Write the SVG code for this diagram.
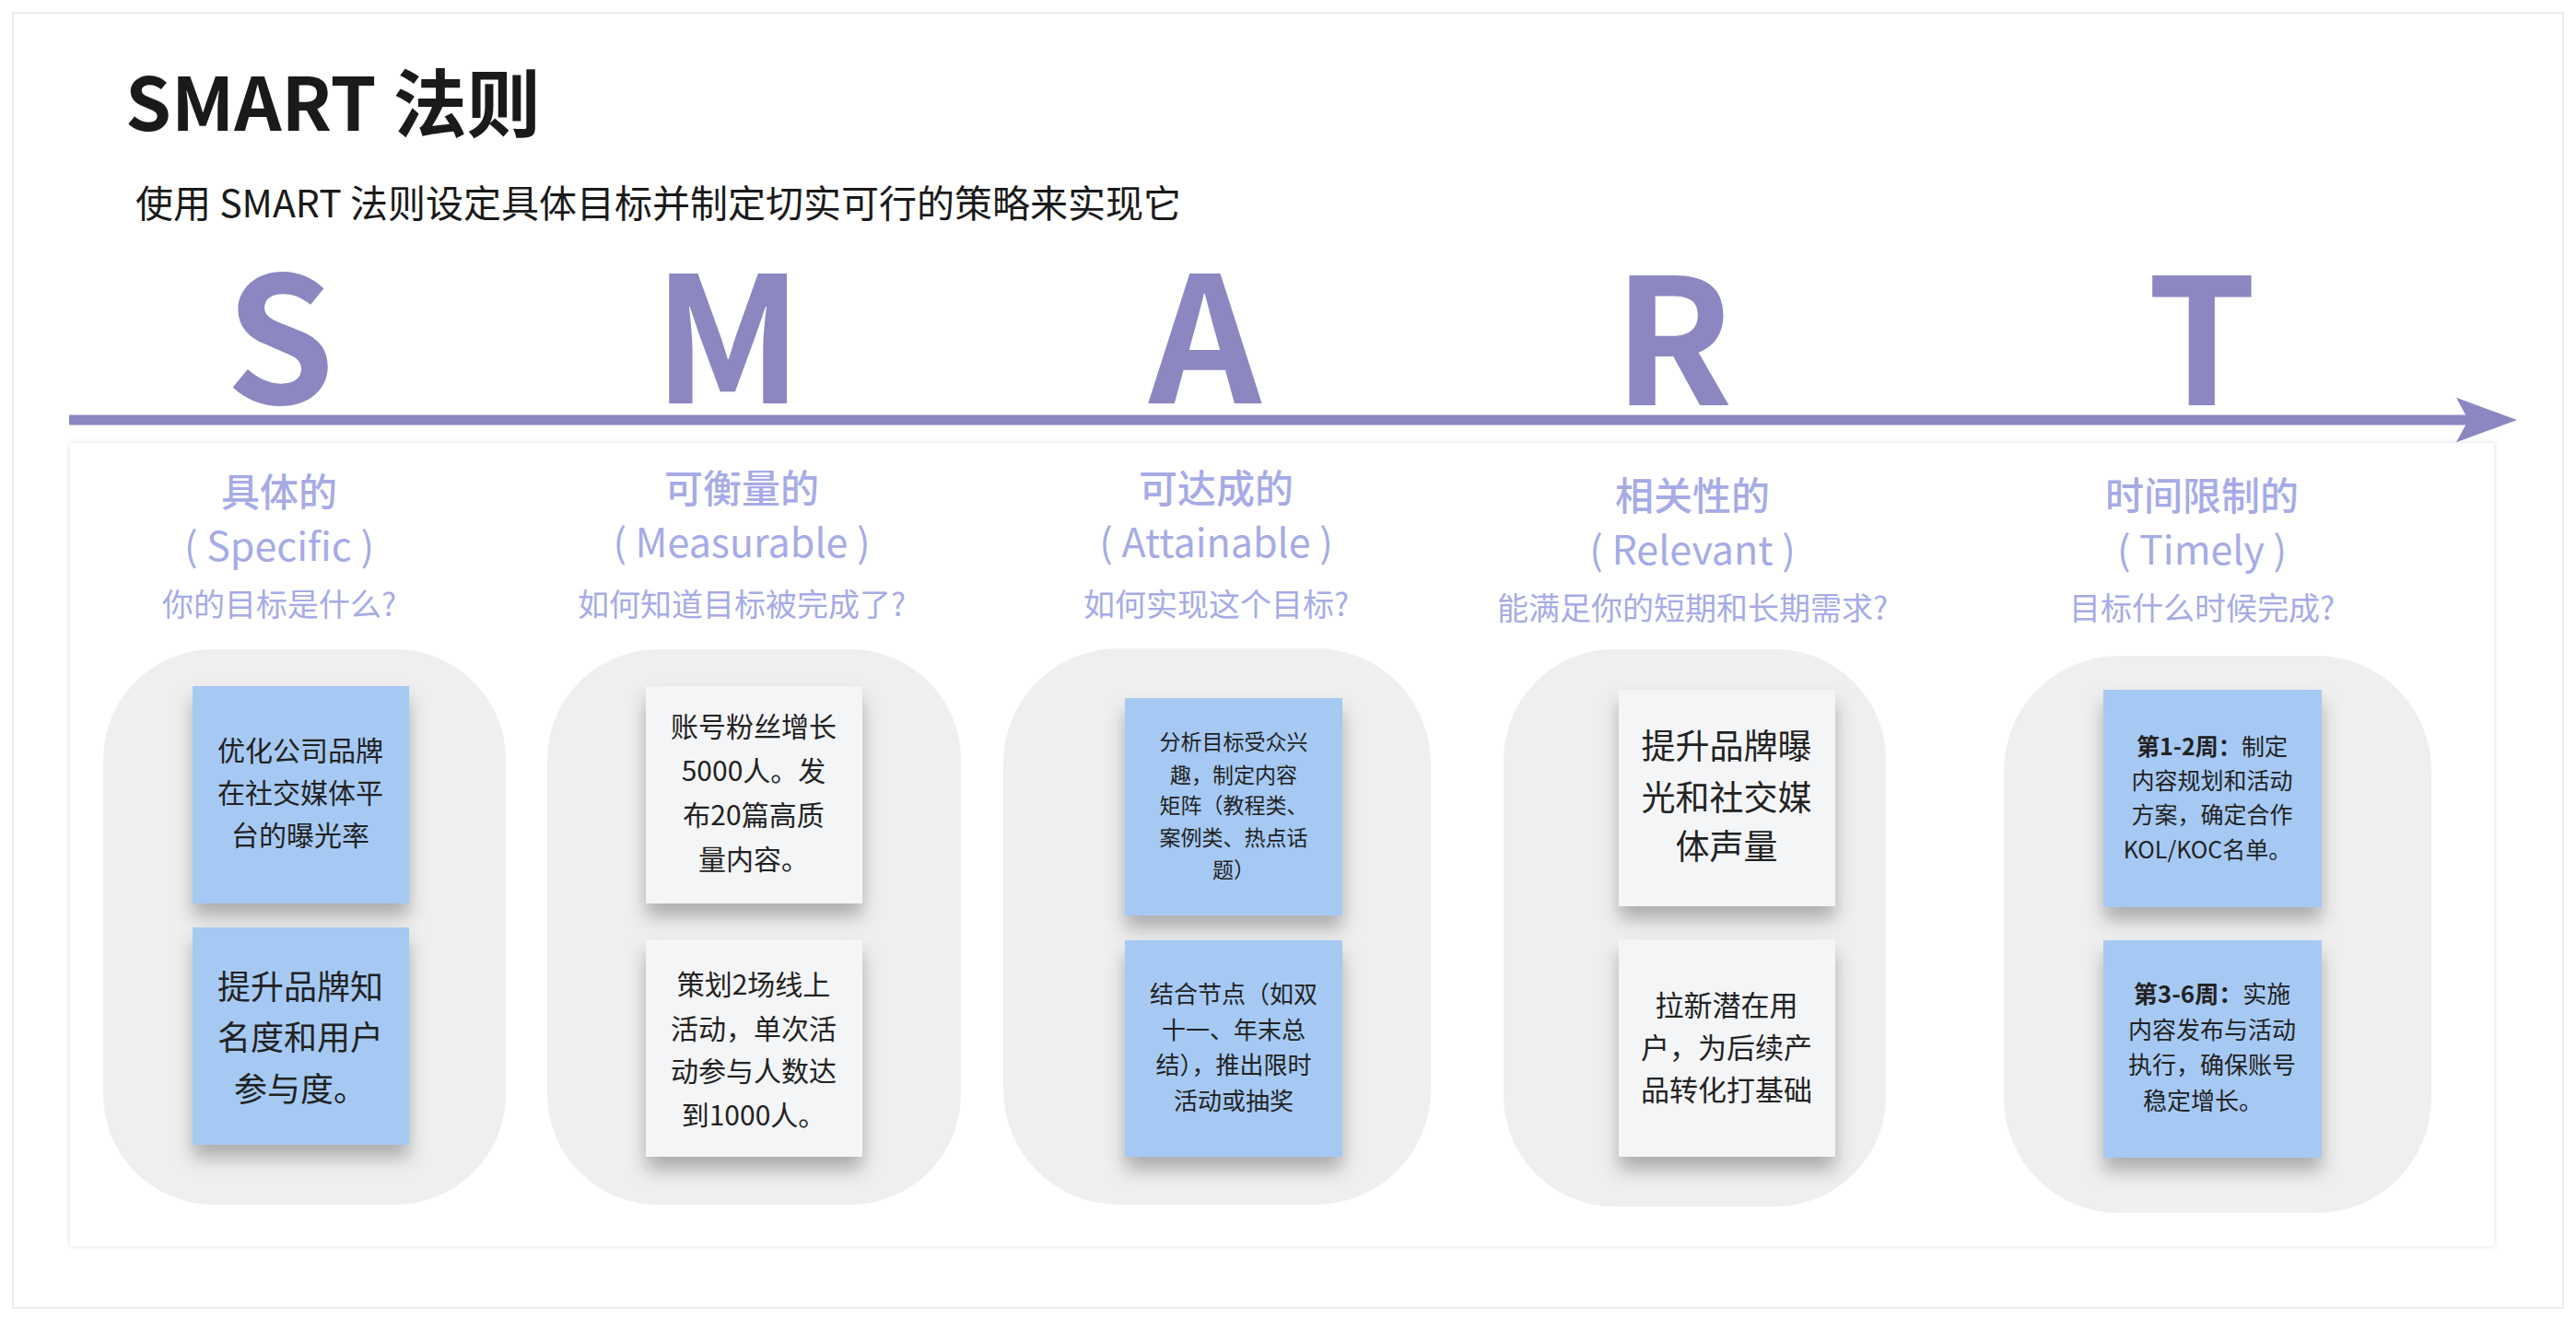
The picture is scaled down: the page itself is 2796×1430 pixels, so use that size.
<svg xmlns="http://www.w3.org/2000/svg" width="2796" height="1430" viewBox="0 0 2796 1430">
<style>
text{font-family:"Noto Sans CJK SC","Noto Sans",sans-serif}
.big{font-size:190px;font-weight:600;fill:#8c87c0;text-anchor:middle}
.h1{font-size:42px;font-weight:500;fill:#a6abe6;text-anchor:middle}
.h2{font-size:43px;fill:#a6abe6;text-anchor:middle}
.q{font-size:34px;fill:#a6abe6;text-anchor:middle}
.card{fill:#efeff0}
.blue{fill:#a6c9f3}
.white{fill:#f4f5f7}
.t{fill:#222;text-anchor:middle}
</style>
<defs>
<filter id="sh" x="-20%" y="-20%" width="140%" height="150%"><feDropShadow dx="0" dy="14" stdDeviation="10" flood-color="#000" flood-opacity="0.28"/></filter>
<filter id="ps" x="-5%" y="-5%" width="110%" height="110%"><feDropShadow dx="0" dy="0" stdDeviation="3" flood-color="#000" flood-opacity="0.12"/></filter>
<marker id="ah" markerWidth="6" markerHeight="6" refX="4" refY="3" orient="auto" markerUnits="strokeWidth"><path d="M0,0.8 L6,3 L0,5.2 L1.2,3 Z" fill="#8c87c0"/></marker>
</defs>
<rect x="0" y="0" width="2796" height="1430" fill="#fff"/>
<rect x="14" y="14" width="2768" height="1406" fill="#fff" stroke="#ececf0" stroke-width="2"/>
<g id="title">
<text x="136" y="142" font-size="80" font-weight="700" fill="#1a1a1a">SMART 法则</text>
<text x="147" y="236" font-size="41" fill="#1a1a1a">使用 SMART 法则设定具体目标并制定切实可行的策略来实现它</text>
</g>
<g id="letters">
<text class="big" x="304" y="438">S</text>
<text class="big" x="790" y="438">M</text>
<text class="big" x="1308" y="438">A</text>
<text class="big" x="1816" y="440" font-size="175">R</text>
<text class="big" x="2390" y="440" font-size="215">T</text>
</g>
<g id="connectors">
<line x1="75" y1="456" x2="2710" y2="456" stroke="#8c87c0" stroke-width="11" marker-end="url(#ah)"/>
</g>
<rect x="76" y="481" width="2631" height="872" fill="#fff" filter="url(#ps)"/>
<g id="col-S">
<text class="h1" x="303" y="550">具体的</text>
<text class="h2" x="303" y="609">( Specific )</text>
<text class="q" x="303" y="669">你的目标是什么?</text>
<rect class="card" x="112" y="705" width="437" height="603" rx="120"/>
<rect class="blue" x="209" y="745" width="235" height="236" filter="url(#sh)"/>
<text class="t" font-size="30" x="326"><tspan x="326" y="826">优化公司品牌</tspan><tspan x="326" y="872">在社交媒体平</tspan><tspan x="326" y="918">台的曝光率</tspan></text>
<rect class="blue" x="209" y="1007" width="235" height="236" filter="url(#sh)"/>
<text class="t" font-size="36" x="326"><tspan x="326" y="1085">提升品牌知</tspan><tspan x="326" y="1140">名度和用户</tspan><tspan x="326" y="1196">参与度。</tspan></text>
</g>
<g id="col-M">
<text class="h1" x="805" y="546">可衡量的</text>
<text class="h2" x="805" y="605">( Measurable )</text>
<text class="q" x="805" y="669">如何知道目标被完成了?</text>
<rect class="card" x="594" y="705" width="449" height="603" rx="120"/>
<rect class="white" x="701" y="745" width="235" height="236" filter="url(#sh)"/>
<text class="t" font-size="30" x="818"><tspan x="818" y="800">账号粉丝增长</tspan><tspan x="818" y="848">5000人。发</tspan><tspan x="818" y="896">布20篇高质</tspan><tspan x="818" y="944">量内容。</tspan></text>
<rect class="white" x="701" y="1020" width="235" height="236" filter="url(#sh)"/>
<text class="t" font-size="30" x="818"><tspan x="818" y="1080">策划2场线上</tspan><tspan x="818" y="1128">活动，单次活</tspan><tspan x="818" y="1174">动参与人数达</tspan><tspan x="818" y="1222">到1000人。</tspan></text>
</g>
<g id="col-A">
<text class="h1" x="1320" y="546">可达成的</text>
<text class="h2" x="1320" y="605">( Attainable )</text>
<text class="q" x="1320" y="669">如何实现这个目标?</text>
<rect class="card" x="1089" y="704" width="464" height="604" rx="125"/>
<rect class="blue" x="1221" y="758" width="236" height="236" filter="url(#sh)"/>
<text class="t" font-size="23" x="1339"><tspan x="1339" y="814">分析目标受众兴</tspan><tspan x="1339" y="850">趣，制定内容</tspan><tspan x="1339" y="883">矩阵（教程类、</tspan><tspan x="1339" y="918">案例类、热点话</tspan><tspan x="1339" y="953">题）</tspan></text>
<rect class="blue" x="1221" y="1021" width="236" height="235" filter="url(#sh)"/>
<text class="t" font-size="26" x="1339"><tspan x="1339" y="1089">结合节点（如双</tspan><tspan x="1339" y="1128">十一、年末总</tspan><tspan x="1339" y="1166">结），推出限时</tspan><tspan x="1339" y="1205">活动或抽奖</tspan></text>
</g>
<g id="col-R">
<text class="h1" x="1837" y="554">相关性的</text>
<text class="h2" x="1837" y="613">( Relevant )</text>
<text class="q" x="1837" y="673">能满足你的短期和长期需求?</text>
<rect class="card" x="1632" y="705" width="415" height="605" rx="120"/>
<rect class="white" x="1757" y="749" width="235" height="235" filter="url(#sh)"/>
<text class="t" font-size="37" x="1874"><tspan x="1874" y="824">提升品牌曝</tspan><tspan x="1874" y="880">光和社交媒</tspan><tspan x="1874" y="933">体声量</tspan></text>
<rect class="white" x="1757" y="1020" width="235" height="236" filter="url(#sh)"/>
<text class="t" font-size="31" x="1874"><tspan x="1874" y="1103">拉新潜在用</tspan><tspan x="1874" y="1149">户，为后续产</tspan><tspan x="1874" y="1195">品转化打基础</tspan></text>
</g>
<g id="col-T">
<text class="h1" x="2390" y="554">时间限制的</text>
<text class="h2" x="2390" y="613">( Timely )</text>
<text class="q" x="2390" y="673">目标什么时候完成?</text>
<rect class="card" x="2175" y="712" width="464" height="605" rx="125"/>
<rect class="blue" x="2283" y="749" width="237" height="236" filter="url(#sh)"/>
<text class="t" font-size="25" x="2401"><tspan x="2401" y="820"><tspan font-weight="700">第1-2周：</tspan>制定</tspan><tspan x="2401" y="857">内容规划和活动</tspan><tspan x="2401" y="894">方案，确定合作</tspan><tspan x="2396" y="932">KOL/KOC名单。</tspan></text>
<rect class="blue" x="2283" y="1021" width="237" height="236" filter="url(#sh)"/>
<text class="t" font-size="26" x="2401"><tspan x="2401" y="1089"><tspan font-weight="700">第3-6周：</tspan>实施</tspan><tspan x="2401" y="1128">内容发布与活动</tspan><tspan x="2401" y="1166">执行，确保账号</tspan><tspan x="2391" y="1205">稳定增长。</tspan></text>
</g>
</svg>
